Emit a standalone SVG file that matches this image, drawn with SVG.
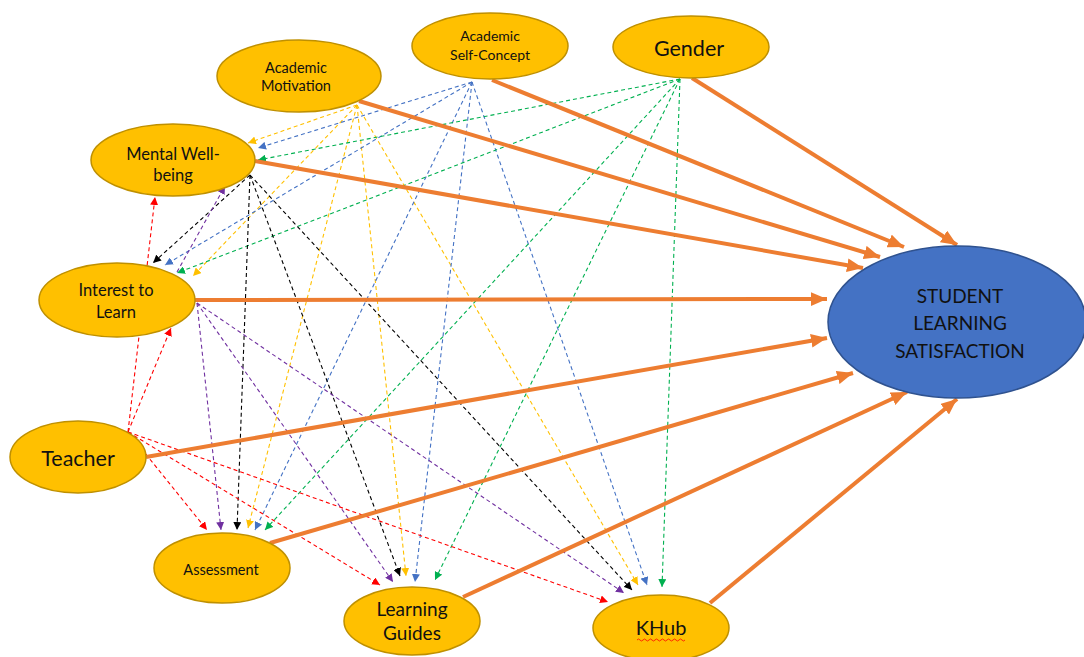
<svg xmlns="http://www.w3.org/2000/svg" width="1084" height="657" viewBox="0 0 1084 657">
  <style>
    .node { fill: #FFC000; stroke: #BF9000; stroke-width: 1.5; }
    .outcome { fill: #4472C4; stroke: #2F528F; stroke-width: 1.5; }
    .lbl { font-family: Lato, "Liberation Sans", sans-serif; fill: #111; text-anchor: middle; dominant-baseline: central; }
    .main { stroke: #ED7D31; stroke-width: 4; fill: none; }
    .dash { stroke-width: 1.1; fill: none; stroke-dasharray: 4 3; }
    .y { stroke: #FFC000; } .b { stroke: #4472C4; } .g { stroke: #00B050; }
    .k { stroke: #000000; } .p { stroke: #7030A0; } .r { stroke: #FF0000; }
  </style>
  <defs>
    <marker id="mO" viewBox="0 0 14 12" refX="14" refY="6" markerWidth="16" markerHeight="14" markerUnits="userSpaceOnUse" orient="auto">
      <path d="M0,0 L14,6 L0,12 z" fill="#ED7D31"/>
    </marker>
    <marker id="mY" viewBox="0 0 10 10" refX="10" refY="5" markerWidth="8" markerHeight="8" markerUnits="userSpaceOnUse" orient="auto"><path d="M0,0 L10,5 L0,10 z" fill="#FFC000"/></marker>
    <marker id="mB" viewBox="0 0 10 10" refX="10" refY="5" markerWidth="8" markerHeight="8" markerUnits="userSpaceOnUse" orient="auto"><path d="M0,0 L10,5 L0,10 z" fill="#4472C4"/></marker>
    <marker id="mG" viewBox="0 0 10 10" refX="10" refY="5" markerWidth="8" markerHeight="8" markerUnits="userSpaceOnUse" orient="auto"><path d="M0,0 L10,5 L0,10 z" fill="#00B050"/></marker>
    <marker id="mK" viewBox="0 0 10 10" refX="10" refY="5" markerWidth="8" markerHeight="8" markerUnits="userSpaceOnUse" orient="auto"><path d="M0,0 L10,5 L0,10 z" fill="#000000"/></marker>
    <marker id="mP" viewBox="0 0 10 10" refX="10" refY="5" markerWidth="8" markerHeight="8" markerUnits="userSpaceOnUse" orient="auto"><path d="M0,0 L10,5 L0,10 z" fill="#7030A0"/></marker>
    <marker id="mR" viewBox="0 0 10 10" refX="10" refY="5" markerWidth="8" markerHeight="8" markerUnits="userSpaceOnUse" orient="auto"><path d="M0,0 L10,5 L0,10 z" fill="#FF0000"/></marker>
  </defs>

  <rect width="1084" height="657" fill="#ffffff"/>

  <!-- dashed paths between predictors -->
  <g id="connectors">
    <!-- Academic Motivation -->
    <g class="dash y" marker-end="url(#mY)">
      <line x1="357" y1="105" x2="248" y2="143"/>
      <line x1="357" y1="105" x2="193" y2="276"/>
      <line x1="357" y1="105" x2="248" y2="528"/>
      <line x1="357" y1="105" x2="406" y2="576"/>
      <line x1="357" y1="105" x2="638" y2="585"/>
    </g>
    <!-- Academic Self-Concept -->
    <g class="dash b" marker-end="url(#mB)">
      <line x1="472" y1="82" x2="258" y2="148"/>
      <line x1="472" y1="82" x2="165" y2="265"/>
      <line x1="472" y1="82" x2="255" y2="530"/>
      <line x1="472" y1="82" x2="415" y2="582"/>
      <line x1="472" y1="82" x2="647" y2="585"/>
    </g>
    <!-- Gender -->
    <g class="dash g" marker-end="url(#mG)">
      <line x1="680" y1="79" x2="258" y2="160"/>
      <line x1="680" y1="79" x2="177" y2="273"/>
      <line x1="680" y1="79" x2="265" y2="530"/>
      <line x1="680" y1="79" x2="435" y2="580"/>
      <line x1="680" y1="79" x2="662" y2="587"/>
    </g>
    <!-- Mental Well-being -->
    <g class="dash k" marker-end="url(#mK)">
      <line x1="250" y1="175" x2="153" y2="263"/>
      <line x1="250" y1="175" x2="237" y2="530"/>
      <line x1="250" y1="175" x2="400" y2="576"/>
      <line x1="250" y1="175" x2="632" y2="590"/>
    </g>
    <!-- Interest to Learn -->
    <g class="dash p" marker-end="url(#mP)">
      <line x1="177" y1="272" x2="225" y2="186"/>
      <line x1="197" y1="303" x2="221" y2="530"/>
      <line x1="197" y1="303" x2="393" y2="582"/>
      <line x1="197" y1="303" x2="624" y2="593"/>
    </g>
    <!-- Teacher -->
    <g class="dash r" marker-end="url(#mR)">
      <line x1="128" y1="432" x2="155" y2="197"/>
      <line x1="128" y1="432" x2="171" y2="328"/>
      <line x1="128" y1="432" x2="207" y2="530"/>
      <line x1="128" y1="432" x2="380" y2="585"/>
      <line x1="128" y1="432" x2="608" y2="602"/>
    </g>
    <!-- direct paths to the outcome -->
    <g class="main" marker-end="url(#mO)">
      <line x1="692" y1="78" x2="957" y2="245"/>
      <line x1="492" y1="80" x2="904" y2="247"/>
      <line x1="359" y1="101" x2="880" y2="257"/>
      <line x1="255" y1="161" x2="863" y2="268"/>
      <line x1="195" y1="300" x2="827" y2="299"/>
      <line x1="146" y1="457" x2="827" y2="338"/>
      <line x1="270" y1="543" x2="853" y2="373"/>
      <line x1="463" y1="597" x2="907" y2="392"/>
      <line x1="710" y1="603" x2="957" y2="399"/>
    </g>
  </g>

  <g id="academic-motivation">
    <ellipse class="node" cx="299" cy="76" rx="82" ry="36"/>
    <text class="lbl" x="296" y="67" font-size="14.5">Academic</text>
    <text class="lbl" x="296" y="85" font-size="14.5">Motivation</text>
  </g>
  <g id="academic-self-concept">
    <ellipse class="node" cx="490" cy="46" rx="78" ry="33"/>
    <text class="lbl" x="490" y="35" font-size="14">Academic</text>
    <text class="lbl" x="490" y="54" font-size="14">Self-Concept</text>
  </g>
  <g id="gender">
    <ellipse class="node" cx="691" cy="47" rx="78" ry="31"/>
    <text class="lbl" x="689" y="48" font-size="21.5">Gender</text>
  </g>
  <g id="mental-well-being">
    <ellipse class="node" cx="173" cy="160" rx="82" ry="36"/>
    <text class="lbl" x="173" y="154" font-size="16.5">Mental Well-</text>
    <text class="lbl" x="173" y="175" font-size="16.5">being</text>
  </g>
  <g id="interest-to-learn">
    <ellipse class="node" cx="117" cy="300" rx="78" ry="37"/>
    <text class="lbl" x="116" y="290" font-size="16.5">Interest to</text>
    <text class="lbl" x="116" y="312" font-size="16.5">Learn</text>
  </g>
  <g id="teacher">
    <ellipse class="node" cx="78" cy="457" rx="68" ry="36"/>
    <text class="lbl" x="78" y="458" font-size="21.5">Teacher</text>
  </g>
  <g id="assessment">
    <ellipse class="node" cx="222" cy="568" rx="68" ry="35"/>
    <text class="lbl" x="221" y="569" font-size="14.5">Assessment</text>
  </g>
  <g id="learning-guides">
    <ellipse class="node" cx="412" cy="621" rx="68" ry="34"/>
    <text class="lbl" x="412" y="608" font-size="19">Learning</text>
    <text class="lbl" x="412" y="632" font-size="19">Guides</text>
  </g>
  <g id="khub">
    <ellipse class="node" cx="661" cy="628" rx="68" ry="33"/>
    <text class="lbl" x="661" y="627" font-size="20">KHub</text>
    <path d="M637,640 q1.5,-2 3,0 t3,0 t3,0 t3,0 t3,0 t3,0 t3,0 t3,0 t3,0 t3,0 t3,0 t3,0 t3,0 t3,0 t3,0 t3,0" fill="none" stroke="#FF0000" stroke-width="0.8"/>
  </g>
  <g id="student-learning-satisfaction">
    <ellipse class="outcome" cx="957" cy="322" rx="129" ry="76"/>
    <text class="lbl" x="960" y="295" font-size="19">STUDENT</text>
    <text class="lbl" x="960" y="322" font-size="19">LEARNING</text>
    <text class="lbl" x="960" y="350" font-size="19">SATISFACTION</text>
  </g>
</svg>
